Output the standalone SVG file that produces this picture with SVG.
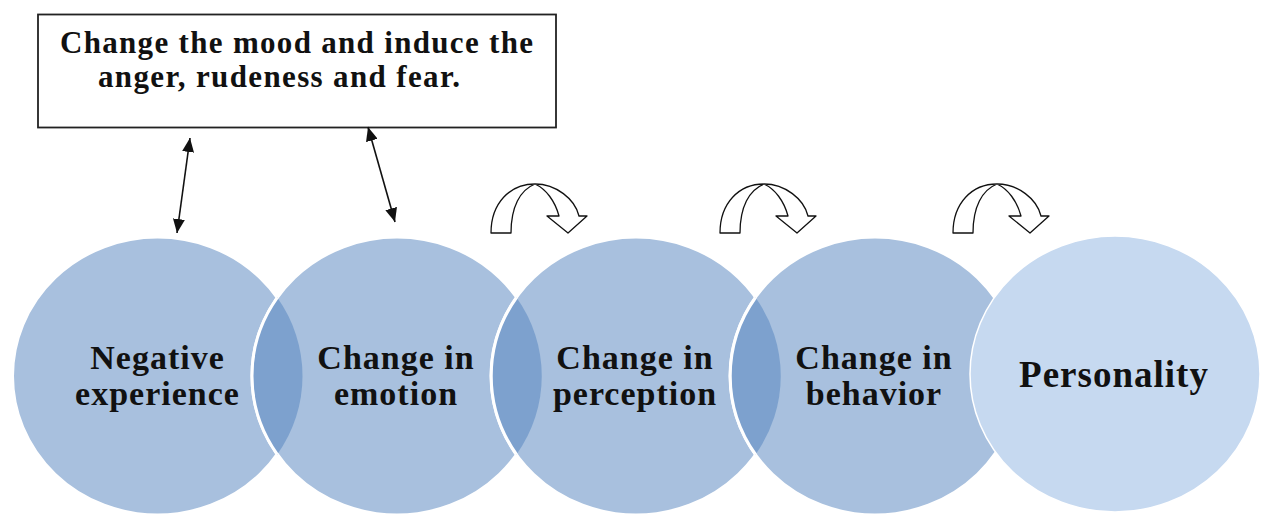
<svg xmlns="http://www.w3.org/2000/svg" width="1263" height="518" viewBox="0 0 1263 518">
  <style>
    .bubble { fill: #A8C0DE; stroke: #FFFFFF; stroke-width: 3; }
    .bubble-end { fill: #C6D9F0; stroke: #FFFFFF; stroke-width: 1.5; }
    .lens { fill: #7DA1CE; stroke: none; }
    .lens-edge { fill: none; stroke: #FFFFFF; stroke-width: 3; }
    .label { font-family: "Liberation Serif", "Times New Roman", serif; font-weight: bold; font-size: 34px; fill: #111111; text-anchor: middle; letter-spacing: 1px; }
    .label-big { font-size: 37px; letter-spacing: 1px; }
    .note { font-family: "Liberation Serif", "Times New Roman", serif; font-weight: bold; font-size: 31px; fill: #111111; }
    .box { fill: #FFFFFF; stroke: #222222; stroke-width: 1.8; }
    .link { stroke: #111111; stroke-width: 1.6; fill: none; }
    .turn { fill: #FFFFFF; stroke: #111111; stroke-width: 1.3; stroke-linejoin: round; }
  </style>
  <defs>
    <marker id="tip" viewBox="0 0 14 12" refX="14" refY="6" markerWidth="14" markerHeight="12" markerUnits="userSpaceOnUse" orient="auto-start-reverse">
      <path d="M0,0 L14,6 L0,12 Z" fill="#111111"/>
    </marker>
    <!-- curved "next step" arrow -->
    <path id="turn-arrow" class="turn" d="M491,233 C491,203 510,184 535,184 C556,184 575,199 579,216 L587,216 L568,233 L547,216 L559,216 C555,201 546,189 535,184 C520,190 511,207 511,233 Z"/>
  </defs>

  <rect width="1263" height="518" fill="#FFFFFF"/>

  <!-- note box -->
  <g id="node-note">
    <rect class="box" x="38" y="14.5" width="518" height="113"/>
    <text class="note" x="60" y="53" textLength="473" lengthAdjust="spacing">Change the mood and induce the</text>
    <text class="note" x="98" y="87" textLength="362" lengthAdjust="spacing">anger, rudeness and fear.</text>
  </g>

  <g id="node-negative">
    <ellipse class="bubble" cx="157.5" cy="376" rx="145" ry="139"/>
    <text class="label" x="157.5" y="369">Negative</text>
    <text class="label" x="157.5" y="405">experience</text>
  </g>

  <g id="node-emotion">
    <ellipse class="bubble" cx="397" cy="376" rx="145" ry="139"/>
    <text class="label" x="396" y="369">Change in</text>
    <text class="label" x="396" y="405">emotion</text>
  </g>

  <g id="node-perception">
    <ellipse class="bubble" cx="636" cy="376" rx="145" ry="139"/>
    <text class="label" x="635" y="369">Change in</text>
    <text class="label" x="635" y="405">perception</text>
  </g>

  <g id="node-behavior">
    <ellipse class="bubble" cx="875" cy="376" rx="145" ry="139"/>
    <text class="label" x="874" y="369">Change in</text>
    <text class="label" x="874" y="405">behavior</text>
  </g>

  <!-- darker overlaps between neighbouring bubbles -->
  <g id="overlaps">
    <path class="lens" d="M277.25,297.6 A145,139 0 0 1 277.25,454.4 A145,139 0 0 1 277.25,297.6 Z"/>
    <path class="lens-edge" d="M277.25,454.4 A145,139 0 0 1 277.25,297.6"/>
    <path class="lens" d="M516.5,297.6 A145,139 0 0 1 516.5,454.4 A145,139 0 0 1 516.5,297.6 Z"/>
    <path class="lens-edge" d="M516.5,454.4 A145,139 0 0 1 516.5,297.6"/>
    <path class="lens" d="M755.5,297.6 A145,139 0 0 1 755.5,454.4 A145,139 0 0 1 755.5,297.6 Z"/>
    <path class="lens-edge" d="M755.5,454.4 A145,139 0 0 1 755.5,297.6"/>
  </g>

  <g id="node-personality">
    <ellipse class="bubble-end" cx="1115" cy="374" rx="145" ry="138"/>
    <text class="label label-big" x="1114" y="387">Personality</text>
  </g>

  <g id="connectors">
    <line class="link" x1="177" y1="233" x2="190" y2="138" marker-start="url(#tip)" marker-end="url(#tip)"/>
    <line class="link" x1="368" y1="127" x2="395" y2="222" marker-start="url(#tip)" marker-end="url(#tip)"/>
    <use href="#turn-arrow"/>
    <use href="#turn-arrow" x="229"/>
    <use href="#turn-arrow" x="462"/>
  </g>
</svg>
